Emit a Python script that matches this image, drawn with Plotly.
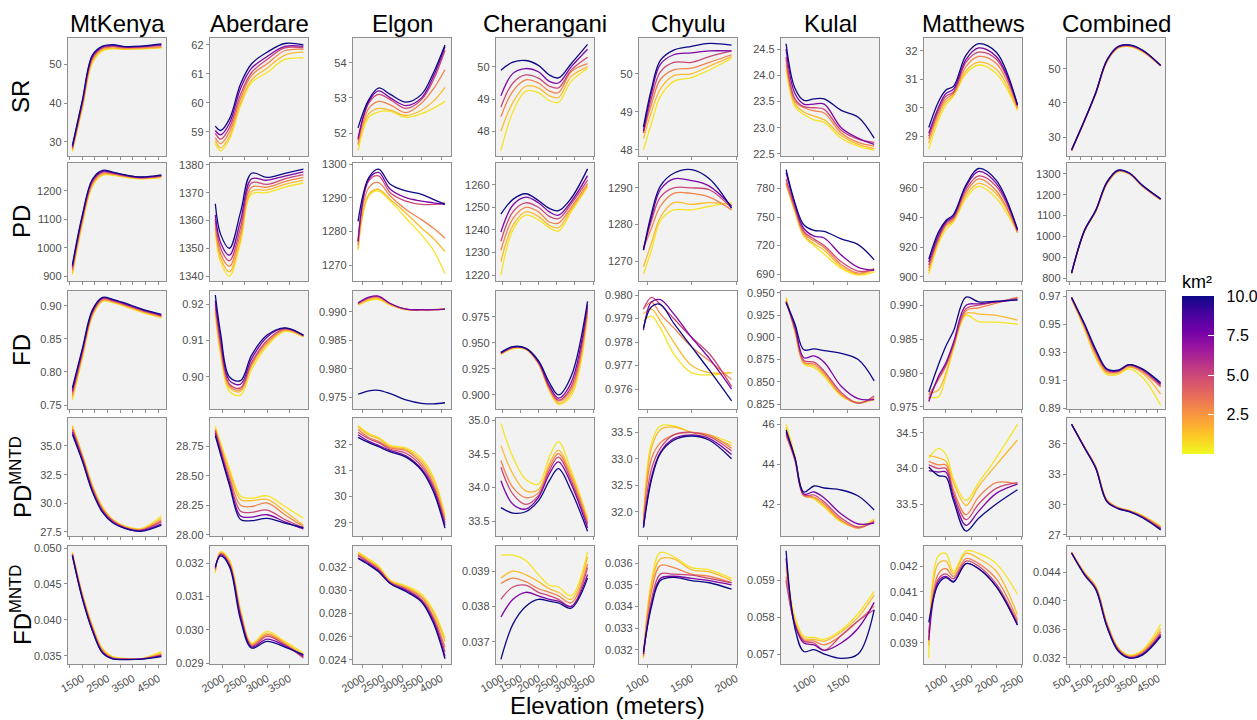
import plotly.graph_objects as go
from plotly.colors import sample_colorscale

# ---------------- data ----------------
LEVELS = [0.5, 1.5, 3, 5, 7.5, 10]          # km2 (colour variable), yellow -> dark blue
MOUNTAINS = ["MtKenya", "Aberdare", "Elgon", "Cherangani", "Chyulu", "Kulal", "Matthews", "Combined"]
METRICS = ["SR", "PD", "FD", "PD<sup>MNTD</sup>", "FD<sup>MNTD</sup>"]

X_MTKENYA = [1110, 1500, 1900, 2300, 2700, 3200, 3800, 4620]
X_ABERDARE = [1830, 1950, 2150, 2400, 2650, 3000, 3400, 3820]
X_ELGON = [1875, 2150, 2400, 2700, 3100, 3500, 3800, 4100]
X_CHERANGANI = [970, 1300, 1650, 2000, 2300, 2550, 2900, 3350]
X_CHYULU = [960, 1050, 1150, 1300, 1500, 1700, 1950]
X_KULAL = [590, 720, 850, 1000, 1150, 1400, 1650, 1885]
X_MATTHEWS = [660, 850, 1000, 1150, 1400, 1650, 2000, 2420]
X_COMBINED = [615, 1200, 1700, 2200, 2700, 3200, 3800, 4620]

# ---- SR ----
SR_MTKENYA = [
    [27.6, 38.5, 50.3, 53.4, 53.9, 53.8, 53.9, 54.2],
    [27.9, 38.9, 50.7, 53.7, 54.1, 53.9, 54.0, 54.3],
    [28.2, 39.4, 51.2, 54.0, 54.4, 54.1, 54.2, 54.5],
    [28.5, 39.8, 51.6, 54.2, 54.6, 54.3, 54.4, 54.8],
    [28.8, 40.2, 52.0, 54.4, 54.8, 54.4, 54.5, 55.0],
    [29.1, 40.6, 52.3, 54.6, 55.0, 54.5, 54.6, 55.2]]
SR_ABERDARE = [
    [58.6, 58.35, 58.75, 59.9, 60.7, 61.05, 61.5, 61.55],
    [58.7, 58.45, 58.85, 60.0, 60.8, 61.2, 61.65, 61.75],
    [58.8, 58.6, 59.0, 60.15, 60.95, 61.35, 61.8, 61.85],
    [58.95, 58.75, 59.15, 60.3, 61.05, 61.5, 61.9, 61.9],
    [59.05, 58.9, 59.3, 60.5, 61.2, 61.6, 61.95, 61.95],
    [59.2, 59.05, 59.45, 60.65, 61.35, 61.75, 62.05, 62.0]]
SR_ELGON = [
    [51.5, 52.45, 52.6, 52.62, 52.45, 52.55, 52.7, 52.9],
    [51.65, 52.55, 52.7, 52.65, 52.5, 52.65, 52.9, 53.3],
    [51.7, 52.7, 52.9, 52.8, 52.58, 52.85, 53.25, 53.8],
    [51.8, 52.85, 53.1, 52.95, 52.7, 52.95, 53.5, 54.35],
    [51.85, 52.9, 53.2, 53.0, 52.78, 53.0, 53.6, 54.45],
    [52.15, 52.95, 53.28, 53.1, 52.88, 53.1, 53.7, 54.5]]
SR_CHERANGANI = [
    [47.4, 48.6, 49.25, 49.2, 48.95, 48.9, 49.55, 49.95],
    [48.0, 48.9, 49.4, 49.35, 49.1, 49.05, 49.7, 50.0],
    [48.45, 49.25, 49.6, 49.5, 49.25, 49.2, 49.85, 50.1],
    [48.75, 49.5, 49.75, 49.65, 49.4, 49.35, 49.9, 50.3],
    [49.1, 49.8, 49.95, 49.85, 49.55, 49.5, 50.0, 50.55],
    [49.9, 50.15, 50.2, 50.05, 49.75, 49.66, 50.1, 50.7]]
SR_CHYULU = [
    [48.0, 48.7, 49.4, 49.8, 49.9, 50.1, 50.4],
    [48.3, 49.0, 49.6, 49.95, 50.0, 50.2, 50.45],
    [48.45, 49.2, 49.85, 50.1, 50.15, 50.3, 50.5],
    [48.45, 49.35, 50.05, 50.3, 50.3, 50.45, 50.6],
    [48.5, 49.5, 50.25, 50.5, 50.55, 50.6, 50.6],
    [48.6, 49.6, 50.35, 50.62, 50.72, 50.8, 50.75]]
SR_KULAL = [
    [24.1, 23.4, 23.25, 23.15, 23.1, 22.8, 22.65, 22.57],
    [24.2, 23.45, 23.3, 23.22, 23.15, 22.85, 22.68, 22.6],
    [24.3, 23.5, 23.38, 23.32, 23.28, 22.9, 22.72, 22.65],
    [24.35, 23.55, 23.4, 23.38, 23.35, 22.95, 22.78, 22.72],
    [24.5, 23.65, 23.45, 23.45, 23.45, 23.0, 22.8, 22.68],
    [24.6, 23.75, 23.52, 23.55, 23.55, 23.33, 23.2, 22.8]]
SR_MATTHEWS = [
    [28.55, 29.55, 30.1, 30.4, 31.2, 31.5, 31.2, 29.9],
    [28.75, 29.7, 30.2, 30.45, 31.3, 31.6, 31.35, 29.95],
    [28.9, 29.8, 30.3, 30.5, 31.45, 31.8, 31.55, 30.0],
    [29.0, 29.9, 30.4, 30.55, 31.6, 31.95, 31.7, 30.05],
    [29.1, 30.0, 30.5, 30.65, 31.7, 32.1, 31.8, 30.1],
    [29.3, 30.2, 30.62, 30.75, 31.85, 32.25, 31.95, 30.1]]
SR_COMBINED = [
    [26.0, 34.8, 42.6, 52.0, 56.0, 56.5, 55.0, 50.8],
    [26.1, 34.85, 42.7, 52.1, 56.1, 56.6, 55.1, 50.85],
    [26.1, 34.9, 42.8, 52.2, 56.2, 56.7, 55.2, 50.9],
    [26.2, 34.9, 42.85, 52.3, 56.3, 56.8, 55.3, 50.9],
    [26.2, 34.95, 42.9, 52.4, 56.4, 56.9, 55.4, 50.95],
    [26.3, 35.0, 43.0, 52.5, 56.5, 57.0, 55.5, 51.0]]

# ---- PD ----
PD_MTKENYA = [
    [905, 1080, 1215, 1254, 1254, 1247, 1241, 1246],
    [912, 1087, 1220, 1257, 1256, 1249, 1243, 1248],
    [920, 1095, 1226, 1261, 1259, 1251, 1244, 1250],
    [927, 1102, 1231, 1265, 1261, 1252, 1245, 1252],
    [934, 1108, 1236, 1268, 1263, 1254, 1247, 1253],
    [940, 1113, 1240, 1271, 1265, 1255, 1248, 1255]]
PD_ABERDARE = [
    [1356, 1345, 1340, 1352, 1369.5, 1370, 1372, 1373.5],
    [1357.5, 1346.5, 1341.5, 1353.5, 1370.5, 1371, 1373, 1374.5],
    [1359, 1348, 1343.5, 1355.5, 1372, 1372, 1374, 1375.5],
    [1360.5, 1350, 1345.5, 1357.5, 1373.5, 1373, 1375, 1376.5],
    [1362, 1352, 1347.5, 1360, 1375, 1374.5, 1376, 1377.5],
    [1366, 1355, 1350, 1363, 1377, 1375.5, 1377, 1378.5]]
PD_ELGON = [
    [1274.5, 1290.5, 1292, 1289, 1284, 1279, 1274.5, 1267.5],
    [1275, 1291, 1292.5, 1289.5, 1285.5, 1281, 1278, 1274],
    [1276, 1293, 1294.5, 1290.5, 1286.5, 1283.5, 1281, 1278],
    [1277, 1295, 1296.5, 1291.5, 1289, 1288, 1288, 1288.5],
    [1277, 1295.5, 1297.5, 1292.5, 1290, 1289, 1288.5, 1288],
    [1283, 1296, 1298.5, 1294, 1292, 1291, 1289.5, 1288]]
PD_CHERANGANI = [
    [1220, 1240, 1246.5, 1244.5, 1241, 1239.5, 1248, 1259],
    [1226, 1242, 1248, 1246, 1242, 1241, 1249, 1259.5],
    [1231, 1245, 1250, 1248, 1243.5, 1243, 1250, 1260.5],
    [1235, 1248, 1252, 1250, 1246, 1245, 1251.5, 1262],
    [1239, 1251, 1254.5, 1252, 1248, 1246.5, 1252.5, 1264],
    [1247, 1253.5, 1256, 1253, 1249.5, 1248.5, 1254, 1267]]
PD_CHYULU = [
    [1266.5, 1273, 1281, 1284, 1284, 1285, 1286],
    [1268.5, 1275, 1282, 1286, 1285.5, 1286, 1285.5],
    [1273.5, 1279, 1285, 1288.5, 1288.5, 1287.5, 1284],
    [1273.5, 1281, 1287.5, 1290, 1290, 1289.5, 1284.5],
    [1273, 1282, 1289.5, 1292.5, 1292, 1290.5, 1285],
    [1273, 1283, 1290.5, 1294, 1295, 1292.5, 1284.5]]
PD_KULAL = [
    [785, 755, 730, 720, 711, 696, 689, 692],
    [785, 757, 731, 722, 715, 698, 690, 694],
    [786, 758, 733, 725, 718, 700, 691, 696],
    [790, 760, 735, 727, 720, 703, 693, 695],
    [797, 763, 738, 730, 728, 710, 697, 694],
    [800, 765, 742, 736, 735, 727, 721, 705]]
PD_MATTHEWS = [
    [902, 922, 932, 937, 953, 961, 953, 930],
    [904, 924, 934, 938, 955, 963, 956, 931],
    [906, 925, 935, 939, 957, 966, 958, 930],
    [908, 926, 936, 940, 959, 968, 961, 931],
    [910, 928, 937, 941, 961, 971, 963, 932],
    [912, 930, 938, 942, 962, 973, 965, 932]]
PD_COMBINED = [
    [822, 1025, 1118, 1250, 1310, 1300, 1240, 1175],
    [823, 1026, 1120, 1252, 1312, 1301, 1241, 1176],
    [823, 1027, 1121, 1254, 1313, 1302, 1242, 1177],
    [824, 1028, 1122, 1256, 1315, 1303, 1243, 1178],
    [824, 1029, 1124, 1258, 1316, 1304, 1244, 1179],
    [825, 1030, 1125, 1260, 1318, 1305, 1245, 1180]]

# ---- FD ----
FD_MTKENYA = [
    [0.758, 0.820, 0.884, 0.907, 0.905, 0.899, 0.891, 0.882],
    [0.762, 0.823, 0.886, 0.908, 0.906, 0.900, 0.892, 0.883],
    [0.765, 0.826, 0.888, 0.909, 0.907, 0.901, 0.893, 0.884],
    [0.769, 0.829, 0.890, 0.911, 0.908, 0.902, 0.894, 0.885],
    [0.772, 0.832, 0.892, 0.912, 0.909, 0.903, 0.895, 0.886],
    [0.776, 0.835, 0.894, 0.913, 0.910, 0.904, 0.896, 0.887]]
FD_ABERDARE = [
    [0.9175, 0.906, 0.896, 0.895, 0.902, 0.9085, 0.9125, 0.911],
    [0.918, 0.907, 0.897, 0.896, 0.903, 0.909, 0.9128, 0.9111],
    [0.919, 0.908, 0.8975, 0.8965, 0.9035, 0.9095, 0.913, 0.9112],
    [0.920, 0.909, 0.898, 0.897, 0.904, 0.910, 0.9132, 0.9113],
    [0.921, 0.9105, 0.899, 0.898, 0.905, 0.911, 0.9134, 0.9114],
    [0.9225, 0.912, 0.900, 0.899, 0.906, 0.9115, 0.9135, 0.9115]]
FD_ELGON = [
    [0.9912, 0.9920, 0.9922, 0.9912, 0.9904, 0.9903, 0.9904, 0.9905],
    [0.9913, 0.9922, 0.9924, 0.9913, 0.9904, 0.9903, 0.9904, 0.9905],
    [0.9914, 0.9924, 0.9926, 0.9914, 0.9905, 0.9903, 0.9904, 0.9905],
    [0.9915, 0.9925, 0.9927, 0.9915, 0.9905, 0.9904, 0.9904, 0.9905],
    [0.9916, 0.9926, 0.9928, 0.9915, 0.9905, 0.9904, 0.9904, 0.9905],
    [0.9755, 0.9761, 0.9762, 0.9756, 0.9745, 0.9739, 0.9738, 0.9740]]
FD_CHERANGANI = [
    [0.939, 0.9445, 0.9438, 0.930, 0.904, 0.891, 0.899, 0.975],
    [0.9395, 0.945, 0.944, 0.930, 0.905, 0.892, 0.902, 0.978],
    [0.940, 0.9455, 0.9445, 0.931, 0.906, 0.894, 0.905, 0.981],
    [0.940, 0.9458, 0.9445, 0.931, 0.907, 0.895, 0.908, 0.984],
    [0.9405, 0.946, 0.9448, 0.932, 0.909, 0.897, 0.912, 0.987],
    [0.941, 0.9465, 0.945, 0.933, 0.912, 0.900, 0.918, 0.990]]
FD_CHYULU = [
    [0.9789, 0.9791, 0.9786, 0.9775, 0.9767, 0.9766, 0.9767],
    [0.9792, 0.9794, 0.9789, 0.9780, 0.9770, 0.9767, 0.9767],
    [0.9794, 0.9797, 0.9792, 0.9786, 0.9778, 0.9772, 0.9764],
    [0.9794, 0.9799, 0.9796, 0.9790, 0.9782, 0.9775, 0.9761],
    [0.9785, 0.9797, 0.9798, 0.9792, 0.9782, 0.9773, 0.9760],
    [0.9786, 0.9795, 0.9796, 0.9788, 0.9778, 0.9768, 0.9755]]
FD_KULAL = [
    [0.945, 0.906, 0.870, 0.866, 0.856, 0.834, 0.827, 0.830],
    [0.943, 0.907, 0.871, 0.868, 0.858, 0.835, 0.826, 0.831],
    [0.941, 0.908, 0.872, 0.870, 0.860, 0.836, 0.826, 0.832],
    [0.940, 0.910, 0.874, 0.872, 0.862, 0.838, 0.826, 0.834],
    [0.939, 0.912, 0.877, 0.879, 0.872, 0.845, 0.831, 0.830],
    [0.939, 0.915, 0.886, 0.887, 0.885, 0.882, 0.875, 0.851]]
FD_MATTHEWS = [
    [0.9765, 0.9765, 0.9795, 0.9835, 0.9885, 0.9876, 0.9875, 0.9872],
    [0.9770, 0.9775, 0.9800, 0.9838, 0.9888, 0.9887, 0.9885, 0.9878],
    [0.9768, 0.9790, 0.9810, 0.9840, 0.9892, 0.9896, 0.9903, 0.9912],
    [0.9762, 0.9792, 0.9812, 0.9842, 0.9895, 0.9900, 0.9905, 0.9910],
    [0.9758, 0.9795, 0.9815, 0.9845, 0.9900, 0.9902, 0.9905, 0.9908],
    [0.9772, 0.9812, 0.9840, 0.9862, 0.9912, 0.9905, 0.9906, 0.9908]]
FD_COMBINED = [
    [0.968, 0.946, 0.926, 0.914, 0.914, 0.918, 0.912, 0.892],
    [0.968, 0.947, 0.927, 0.915, 0.915, 0.919, 0.915, 0.900],
    [0.968, 0.948, 0.929, 0.916, 0.916, 0.920, 0.916, 0.905],
    [0.969, 0.949, 0.930, 0.917, 0.916, 0.9205, 0.917, 0.906],
    [0.969, 0.9495, 0.931, 0.9175, 0.9165, 0.921, 0.9175, 0.907],
    [0.969, 0.950, 0.932, 0.918, 0.917, 0.921, 0.918, 0.908]]

# ---- PD MNTD ----
PDM_MTKENYA = [
    [36.8, 34.3, 31.6, 29.7, 28.6, 28.0, 27.78, 28.9],
    [36.7, 34.2, 31.5, 29.6, 28.55, 27.95, 27.72, 28.7],
    [36.5, 34.1, 31.4, 29.5, 28.5, 27.9, 27.68, 28.55],
    [36.4, 34.0, 31.25, 29.4, 28.45, 27.87, 27.65, 28.4],
    [36.2, 33.8, 31.1, 29.3, 28.35, 27.82, 27.6, 28.2],
    [36.0, 33.7, 31.0, 29.2, 28.3, 27.8, 27.55, 28.1]]
PDM_ABERDARE = [
    [28.92, 28.78, 28.56, 28.33, 28.31, 28.33, 28.24, 28.14],
    [28.9, 28.76, 28.54, 28.30, 28.29, 28.30, 28.2, 28.08],
    [28.89, 28.74, 28.5, 28.25, 28.24, 28.27, 28.17, 28.07],
    [28.88, 28.72, 28.47, 28.2, 28.19, 28.21, 28.13, 28.06],
    [28.86, 28.70, 28.44, 28.16, 28.15, 28.17, 28.11, 28.05],
    [28.84, 28.68, 28.42, 28.13, 28.12, 28.14, 28.1, 28.06]]
PDM_ELGON = [
    [32.7, 32.4, 32.25, 31.95, 31.85, 31.45, 30.75, 29.3],
    [32.65, 32.35, 32.2, 31.9, 31.8, 31.35, 30.65, 29.2],
    [32.55, 32.25, 32.1, 31.85, 31.75, 31.25, 30.5, 29.1],
    [32.45, 32.2, 32.05, 31.8, 31.65, 31.15, 30.4, 29.0],
    [32.35, 32.1, 31.95, 31.75, 31.55, 31.05, 30.3, 28.9],
    [32.25, 32.05, 31.9, 31.7, 31.5, 31.0, 30.2, 28.8]]
PDM_CHERANGANI = [
    [34.95, 34.45, 34.12, 34.05, 34.45, 34.68, 34.25, 33.55],
    [34.62, 34.2, 33.95, 33.97, 34.35, 34.55, 34.2, 33.52],
    [34.4, 34.0, 33.85, 33.92, 34.3, 34.5, 34.15, 33.48],
    [34.3, 33.9, 33.75, 33.88, 34.25, 34.45, 34.1, 33.45],
    [34.1, 33.75, 33.68, 33.85, 34.2, 34.38, 34.05, 33.4],
    [33.7, 33.62, 33.64, 33.8, 34.1, 34.28, 33.95, 33.35]]
PDM_CHYULU = [
    [31.85, 33.3, 33.62, 33.62, 33.5, 33.45, 33.3],
    [31.8, 33.2, 33.55, 33.6, 33.5, 33.42, 33.25],
    [31.8, 33.0, 33.3, 33.45, 33.5, 33.45, 33.2],
    [31.75, 32.8, 33.2, 33.45, 33.5, 33.42, 33.15],
    [31.7, 32.65, 33.12, 33.38, 33.45, 33.38, 33.08],
    [31.7, 32.6, 33.1, 33.35, 33.43, 33.35, 33.0]]
PDM_KULAL = [
    [46.0, 44.4, 42.5, 42.25, 41.85, 41.1, 40.85, 41.25],
    [45.8, 44.3, 42.45, 42.3, 41.9, 41.15, 40.8, 41.2],
    [45.4, 44.2, 42.4, 42.35, 42.0, 41.2, 40.8, 41.15],
    [45.5, 44.2, 42.45, 42.45, 42.1, 41.3, 40.85, 41.1],
    [45.6, 44.3, 42.5, 42.6, 42.3, 41.5, 41.0, 41.05],
    [45.7, 44.3, 42.6, 42.9, 42.8, 42.7, 42.4, 41.7]]
PDM_MATTHEWS = [
    [34.15, 34.28, 34.2, 33.85, 33.55, 33.8, 34.15, 34.62],
    [34.18, 34.15, 34.1, 33.8, 33.48, 33.75, 34.05, 34.4],
    [34.1, 34.05, 34.05, 33.7, 33.35, 33.6, 33.8, 33.78],
    [34.05, 34.0, 34.0, 33.65, 33.28, 33.5, 33.72, 33.8],
    [33.97, 33.95, 33.95, 33.6, 33.2, 33.4, 33.65, 33.78],
    [34.02, 33.9, 33.88, 33.55, 33.12, 33.3, 33.5, 33.7]]
PDM_COMBINED = [
    [37.95, 35.7, 33.8, 30.5, 29.75, 29.45, 28.95, 27.9],
    [37.95, 35.68, 33.76, 30.46, 29.72, 29.42, 28.9, 27.82],
    [37.95, 35.66, 33.72, 30.42, 29.69, 29.39, 28.85, 27.74],
    [37.95, 35.64, 33.68, 30.38, 29.66, 29.36, 28.8, 27.66],
    [37.95, 35.62, 33.64, 30.34, 29.63, 29.33, 28.75, 27.58],
    [37.95, 35.6, 33.6, 30.3, 29.6, 29.3, 28.7, 27.5]]

# ---- FD MNTD ----
FDM_MTKENYA = [
    [0.0494, 0.0437, 0.0393, 0.0360, 0.0349, 0.03465, 0.0346, 0.0356],
    [0.0493, 0.0436, 0.0391, 0.0359, 0.0348, 0.0346, 0.03458, 0.0354],
    [0.0492, 0.0434, 0.0389, 0.0357, 0.0347, 0.03458, 0.03456, 0.0352],
    [0.0491, 0.0433, 0.0388, 0.0356, 0.0347, 0.03455, 0.03455, 0.0351],
    [0.0490, 0.0431, 0.0386, 0.0355, 0.0346, 0.03453, 0.03455, 0.0350],
    [0.0489, 0.0430, 0.0385, 0.0354, 0.0346, 0.0345, 0.03455, 0.0349]]
FDM_ABERDARE = [
    [0.03172, 0.03235, 0.0321, 0.0306, 0.0296, 0.02995, 0.02965, 0.0293],
    [0.03176, 0.03232, 0.03205, 0.03055, 0.02957, 0.0299, 0.0296, 0.02925],
    [0.0318, 0.0323, 0.032, 0.0305, 0.02954, 0.02985, 0.02958, 0.0292],
    [0.03184, 0.03228, 0.03197, 0.03045, 0.02951, 0.0298, 0.02955, 0.02915],
    [0.03187, 0.03225, 0.03194, 0.0304, 0.02948, 0.02972, 0.02952, 0.0292],
    [0.0319, 0.03222, 0.0319, 0.0303, 0.02945, 0.02965, 0.02948, 0.02925]]
FDM_ELGON = [
    [0.0333, 0.0327, 0.0321, 0.0309, 0.0304, 0.0297, 0.0283, 0.0259],
    [0.0332, 0.0326, 0.0320, 0.0308, 0.0303, 0.0295, 0.0281, 0.0256],
    [0.0331, 0.0325, 0.0319, 0.0307, 0.0302, 0.0294, 0.0278, 0.0251],
    [0.0330, 0.0324, 0.0318, 0.0307, 0.0301, 0.0292, 0.0276, 0.0247],
    [0.0328, 0.0323, 0.0317, 0.0306, 0.0300, 0.0291, 0.0274, 0.0243],
    [0.03275, 0.0322, 0.0316, 0.0306, 0.0299, 0.0290, 0.0272, 0.0241]]
FDM_CHERANGANI = [
    [0.03945, 0.03945, 0.0393, 0.0389, 0.0386, 0.03855, 0.0383, 0.03955],
    [0.0388, 0.0390, 0.0389, 0.0387, 0.0385, 0.0384, 0.0382, 0.0394],
    [0.03865, 0.0388, 0.0387, 0.0385, 0.0384, 0.0383, 0.0381, 0.0392],
    [0.0382, 0.03855, 0.0386, 0.0384, 0.0383, 0.0382, 0.0380, 0.0391],
    [0.0377, 0.0382, 0.0384, 0.0383, 0.0382, 0.03815, 0.0380, 0.0389],
    [0.0365, 0.0375, 0.0380, 0.0382, 0.03815, 0.0381, 0.03795, 0.0388]]
FDM_CHYULU = [
    [0.0316, 0.0352, 0.0365, 0.0363, 0.0358, 0.0357, 0.0353],
    [0.0317, 0.0350, 0.0362, 0.0362, 0.0357, 0.0356, 0.0352],
    [0.0317, 0.0347, 0.0359, 0.0358, 0.0355, 0.0354, 0.0351],
    [0.0318, 0.0343, 0.0355, 0.0355, 0.03545, 0.0353, 0.0351],
    [0.0318, 0.0341, 0.0353, 0.0354, 0.0353, 0.0352, 0.0350],
    [0.0319, 0.0340, 0.0352, 0.03535, 0.0352, 0.0351, 0.0348]]
FDM_KULAL = [
    [0.0594, 0.0580, 0.05748, 0.05745, 0.05740, 0.05765, 0.0581, 0.0587],
    [0.0593, 0.0579, 0.05742, 0.0574, 0.05735, 0.0576, 0.0580, 0.0586],
    [0.0591, 0.0578, 0.05738, 0.05735, 0.05725, 0.0575, 0.0579, 0.0583],
    [0.0590, 0.0578, 0.05735, 0.0573, 0.0571, 0.0575, 0.0579, 0.0582],
    [0.0596, 0.0578, 0.0573, 0.05725, 0.0571, 0.0573, 0.0577, 0.0584],
    [0.0598, 0.0577, 0.05707, 0.05712, 0.05700, 0.05688, 0.0570, 0.0582]]
FDM_MATTHEWS = [
    [0.0384, 0.0424, 0.0425, 0.0418, 0.0426, 0.0425, 0.0421, 0.0409],
    [0.0389, 0.0421, 0.0422, 0.0417, 0.0425, 0.0423, 0.0418, 0.0401],
    [0.0392, 0.0417, 0.0419, 0.0416, 0.0423, 0.0421, 0.0415, 0.0399],
    [0.0394, 0.0415, 0.0417, 0.0415, 0.0422, 0.0420, 0.0413, 0.0398],
    [0.0391, 0.0414, 0.0416, 0.0414, 0.0421, 0.0419, 0.0412, 0.0397],
    [0.0398, 0.0413, 0.04155, 0.04138, 0.0421, 0.0419, 0.0412, 0.0397]]
FDM_COMBINED = [
    [0.0468, 0.0440, 0.0421, 0.0370, 0.0335, 0.0324, 0.0331, 0.0367],
    [0.0468, 0.0439, 0.0420, 0.0369, 0.0334, 0.0323, 0.0329, 0.0361],
    [0.0468, 0.0438, 0.0419, 0.0368, 0.0333, 0.0322, 0.0328, 0.0357],
    [0.0467, 0.0437, 0.0418, 0.0366, 0.0332, 0.0321, 0.0326, 0.0354],
    [0.0467, 0.0437, 0.0417, 0.0365, 0.0331, 0.0320, 0.0325, 0.0352],
    [0.0467, 0.0436, 0.0416, 0.0364, 0.0330, 0.0320, 0.0324, 0.0350]]

# tick labels (labelled major ticks) and unlabelled minor ticks
XTICK_LABELS = {
    "MtKenya": ["1500", "2500", "3500", "4500"],
    "Aberdare": ["2000", "2500", "3000", "3500"],
    "Elgon": ["2000", "2500", "3000", "3500", "4000"],
    "Cherangani": ["1000", "1500", "2000", "2500", "3000", "3500"],
    "Chyulu": ["1000", "1500", "2000"],
    "Kulal": ["1000", "1500"],
    "Matthews": ["1000", "1500", "2000", "2500"],
    "Combined": ["500", "1500", "2500", "3500", "4500"],
}
XTICK_MINOR = {
    "MtKenya": [1000, 2000, 3000, 4000],
    "Combined": [1000, 2000, 3000, 4000],
}
YTICKS_SR = [["30", "40", "50"], ["59", "60", "61", "62"], ["52", "53", "54"], ["48", "49", "50"],
             ["48", "49", "50"], ["22.5", "23.0", "23.5", "24.0", "24.5"], ["29", "30", "31", "32"], ["30", "40", "50"]]
YTICKS_PD = [["900", "1000", "1100", "1200"], ["1340", "1350", "1360", "1370", "1380"],
             ["1270", "1280", "1290", "1300"], ["1220", "1230", "1240", "1250", "1260"],
             ["1270", "1280", "1290"], ["690", "720", "750", "780"], ["900", "920", "940", "960"],
             ["800", "900", "1000", "1100", "1200", "1300"]]
YTICKS_FD = [["0.75", "0.80", "0.85", "0.90"], ["0.90", "0.91", "0.92"], ["0.975", "0.980", "0.985", "0.990"],
             ["0.900", "0.925", "0.950", "0.975"], ["0.976", "0.977", "0.978", "0.979", "0.980"],
             ["0.825", "0.850", "0.875", "0.900", "0.925", "0.950"], ["0.975", "0.980", "0.985", "0.990"],
             ["0.89", "0.91", "0.93", "0.95", "0.97"]]
YTICKS_PDM = [["27.5", "30.0", "32.5", "35.0"], ["28.00", "28.25", "28.50", "28.75"], ["29", "30", "31", "32"],
              ["33.5", "34.0", "34.5", "35.0"], ["32.0", "32.5", "33.0", "33.5"], ["42", "44", "46"],
              ["33.5", "34.0", "34.5"], ["27", "30", "33", "36"]]
YTICKS_FDM = [["0.035", "0.040", "0.045", "0.050"], ["0.029", "0.030", "0.031", "0.032"],
              ["0.024", "0.026", "0.028", "0.030", "0.032"], ["0.037", "0.038", "0.039"],
              ["0.032", "0.033", "0.034", "0.035", "0.036"], ["0.057", "0.058", "0.059"],
              ["0.039", "0.040", "0.041", "0.042"], ["0.032", "0.036", "0.040", "0.044"]]
CBAR_VALS = [2.5, 5, 7.5, 10]
CBAR_TEXT = ["2.5", "5.0", "7.5", "10.0"]

# ---------------- assembly ----------------
XS = [X_MTKENYA, X_ABERDARE, X_ELGON, X_CHERANGANI, X_CHYULU, X_KULAL, X_MATTHEWS, X_COMBINED]
PANELS = [
    [SR_MTKENYA, SR_ABERDARE, SR_ELGON, SR_CHERANGANI, SR_CHYULU, SR_KULAL, SR_MATTHEWS, SR_COMBINED],
    [PD_MTKENYA, PD_ABERDARE, PD_ELGON, PD_CHERANGANI, PD_CHYULU, PD_KULAL, PD_MATTHEWS, PD_COMBINED],
    [FD_MTKENYA, FD_ABERDARE, FD_ELGON, FD_CHERANGANI, FD_CHYULU, FD_KULAL, FD_MATTHEWS, FD_COMBINED],
    [PDM_MTKENYA, PDM_ABERDARE, PDM_ELGON, PDM_CHERANGANI, PDM_CHYULU, PDM_KULAL, PDM_MATTHEWS, PDM_COMBINED],
    [FDM_MTKENYA, FDM_ABERDARE, FDM_ELGON, FDM_CHERANGANI, FDM_CHYULU, FDM_KULAL, FDM_MATTHEWS, FDM_COMBINED],
]
YTICKS = [YTICKS_SR, YTICKS_PD, YTICKS_FD, YTICKS_PDM, YTICKS_FDM]

# layout (pixels / axis ranges)
W, H = 1257, 720
COL_LEFT = [68, 210, 353, 496, 639, 781, 924, 1067]
ROW_TOP = [38, 163, 291, 418, 546]
PW, PH = 98, 118
XRANGE = [[937, 4803], [1710, 3924], [1746, 4254], [835, 3527], [910, 2011], [515, 1956], [565, 2510], [410, 4815]]
YRANGE = [
    [[26.4, 56.7], [58.17, 62.24], [51.35, 54.7], [47.23, 50.9], [47.84, 50.94], [22.46, 24.71], [28.3, 32.45], [24.5, 59]],
    [[883, 1297], [1338.2, 1380.7], [1265.3, 1300.3], [1217.4, 1269.6], [1264.6, 1296.8], [682.7, 807], [897.3, 976.7], [786, 1352]],
    [[0.744, 0.9225], [0.8912, 0.9236], [0.9729, 0.9937], [0.8865, 1.0], [0.97515, 0.98017], [0.8194, 0.952], [0.9747, 0.9921], [0.8893, 0.9736]],
    [[27.15, 37.44], [27.99, 28.99], [28.5, 32.99], [33.28, 35.03], [31.54, 33.77], [40.4, 46.3], [33.05, 34.71], [26.9, 38.57]],
    [[0.03388, 0.05028], [0.02897, 0.03252], [0.02365, 0.03383], [0.03637, 0.03971], [0.03134, 0.0368], [0.05673, 0.05993], [0.03817, 0.04279], [0.03115, 0.04768]],
]
WHITE_PANELS = {(1, 2), (1, 5), (2, 4)}

FONT = "Liberation Sans, Arial, Helvetica, sans-serif"
AXIS_COLOR = "#8f8f8f"
TICK_FONT = dict(family=FONT, size=11, color="#4d4d4d")
LINE_COLORS = [sample_colorscale("Plasma", [1 - v / 10.0])[0] for v in LEVELS]

fig = go.Figure()
layout = {}
shapes = []
for r in range(5):
    for c in range(8):
        k = r * 8 + c + 1
        xa = "x" if k == 1 else f"x{k}"
        ya = "y" if k == 1 else f"y{k}"
        xkey = "xaxis" if k == 1 else f"xaxis{k}"
        ykey = "yaxis" if k == 1 else f"yaxis{k}"
        x0 = COL_LEFT[c] / W
        x1 = (COL_LEFT[c] + PW) / W
        y1 = 1 - ROW_TOP[r] / H
        y0 = 1 - (ROW_TOP[r] + PH) / H
        xlabels = XTICK_LABELS[MOUNTAINS[c]]
        xdict = dict(
            domain=[x0, x1], range=XRANGE[c], anchor=ya, automargin=False,
            tickmode="array", tickvals=[float(s) for s in xlabels], ticktext=xlabels,
            showticklabels=(r == 4), tickangle=-30, tickfont=TICK_FONT,
            ticks="outside", ticklen=3, tickcolor=AXIS_COLOR, tickwidth=1,
            showline=True, linecolor=AXIS_COLOR, linewidth=1.2, mirror=True,
            showgrid=False, zeroline=False, fixedrange=True)
        if MOUNTAINS[c] in XTICK_MINOR:
            xdict["minor"] = dict(tickmode="array", tickvals=XTICK_MINOR[MOUNTAINS[c]], ticks="outside",
                                  ticklen=3, tickcolor=AXIS_COLOR, tickwidth=1, showgrid=False)
        layout[xkey] = xdict
        ylabels = YTICKS[r][c]
        layout[ykey] = dict(
            domain=[y0, y1], range=YRANGE[r][c], anchor=xa, automargin=False,
            tickmode="array", tickvals=[float(s) for s in ylabels], ticktext=ylabels,
            tickfont=TICK_FONT, ticks="outside", ticklen=3, tickcolor=AXIS_COLOR, tickwidth=1,
            showline=True, linecolor=AXIS_COLOR, linewidth=1.2, mirror=True,
            showgrid=False, zeroline=False, fixedrange=True)
        if (r, c) in WHITE_PANELS:
            shapes.append(dict(type="rect", xref=f"{xa} domain", yref=f"{ya} domain",
                               x0=0, x1=1, y0=0, y1=1, fillcolor="white",
                               line=dict(width=0), layer="below"))
        xs = XS[c]
        for li, ys in enumerate(PANELS[r][c]):
            fig.add_trace(go.Scatter(
                x=xs, y=ys, mode="lines", xaxis=xa, yaxis=ya,
                line=dict(color=LINE_COLORS[li], width=1.3, shape="spline", smoothing=1.0),
                hoverinfo="skip", showlegend=False))

# colour bar (km2)
NBSP = "\u00a0\u00a0"
fig.add_trace(go.Scatter(
    x=[None], y=[None], mode="markers", xaxis="x", yaxis="y", showlegend=False, hoverinfo="skip",
    marker=dict(color=[0], colorscale="Plasma", reversescale=True, cmin=0, cmax=10, showscale=True,
                colorbar=dict(
                    x=1182 / W, xanchor="left", y=1 - 454 / H, yanchor="bottom",
                    len=(454 - 271) / H, lenmode="fraction", thickness=32, thicknessmode="pixels",
                    xpad=0, ypad=0, outlinewidth=0,
                    tickmode="array", tickvals=CBAR_VALS, ticktext=[NBSP + t for t in CBAR_TEXT],
                    ticks="inside", ticklen=6, tickcolor="white", tickwidth=1,
                    tickfont=dict(family=FONT, size=16, color="black"),
                    title=dict(text="km²", side="top", font=dict(family=FONT, size=18, color="black"))))))

annotations = []
for c, name in enumerate(MOUNTAINS):
    annotations.append(dict(text=name, x=(COL_LEFT[c] + PW / 2) / W, y=1 - 23 / H,
                            xref="paper", yref="paper", xanchor="center", yanchor="middle",
                            showarrow=False, font=dict(family=FONT, size=24, color="black")))
for r, name in enumerate(METRICS):
    annotations.append(dict(text=name, x=21 / W, y=1 - (ROW_TOP[r] + PH / 2) / H,
                            xref="paper", yref="paper", xanchor="center", yanchor="middle",
                            textangle=-90, showarrow=False, font=dict(family=FONT, size=24, color="black")))
annotations.append(dict(text="Elevation (meters)", x=607 / W, y=1 - 705 / H, xref="paper", yref="paper",
                        xanchor="center", yanchor="middle", showarrow=False,
                        font=dict(family=FONT, size=24, color="black")))

fig.update_layout(
    width=W, height=H, autosize=False,
    margin=dict(l=0, r=0, t=0, b=0, pad=0, autoexpand=False),
    paper_bgcolor="white", plot_bgcolor="#f2f2f2",
    font=dict(family=FONT),
    shapes=shapes, annotations=annotations,
    **layout)

fig.write_html("out.html", config={"displayModeBar": False, "staticPlot": True},
               post_script="document.body.style.margin='0px';document.body.style.overflow='hidden';")
